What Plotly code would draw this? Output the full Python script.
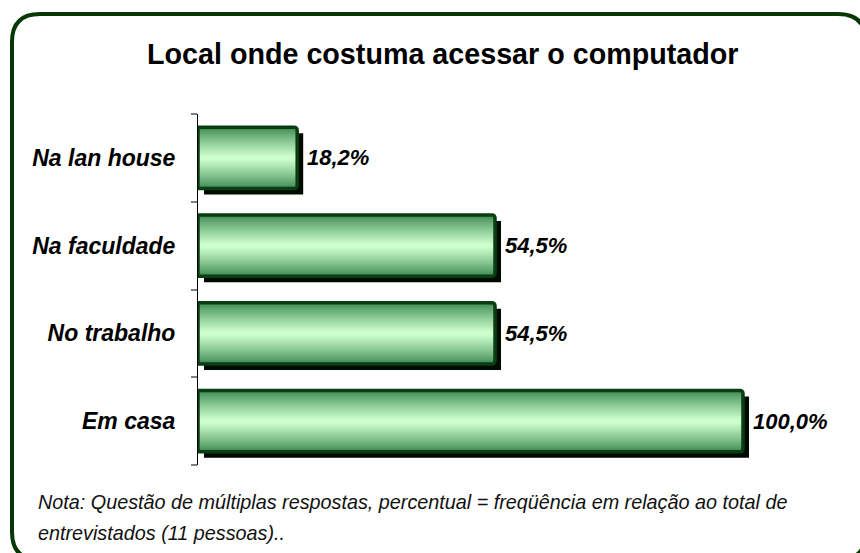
import plotly.graph_objects as go

# ---------------- data ----------------
categories = ["Em casa", "No trabalho", "Na faculdade", "Na lan house"]
values = [100.0, 54.5, 54.5, 18.2]
title_text = "Local onde costuma acessar o computador"
note_lines = [
    "Nota: Questão de múltiplas respostas, percentual = freqüência em relação ao total de",
    "entrevistados (11 pessoas)..",
]

# ---------------- layout geometry ----------------
W, H = 860, 553
ML, MR, MT, MB = 198, 22, 114, 88
PW = W - ML - MR
PH = H - MT - MB
XMAX = 100 * PW / 545.0
CAT_PX = PH / len(categories)


def px_x(px):
    return (px - ML) / PW


def px_y(py):
    return (MT + PH - py) / PH


def mix(c1, c2, t):
    return "rgb(%d,%d,%d)" % tuple(round(a + (b - a) * t) for a, b in zip(c1, c2))


FONT = "Liberation Sans, Arial, sans-serif"
BAR_W = 0.70
fig = go.Figure()

# shadow
fig.add_trace(go.Bar(
    y=categories, x=values, base=6 * XMAX / PW, orientation="h",
    width=BAR_W, offset=-BAR_W / 2 - 6 / CAT_PX,
    marker=dict(color="#000a00", line=dict(width=0)),
    hoverinfo="skip", showlegend=False,
))

# gradient layers
edge = (0x3c, 0x88, 0x52)
center = (0xcc, 0xff, 0xcc)
N = 22
for k in range(N):
    t = k / (N - 1)
    w = BAR_W * (1 - 0.93 * t)
    fig.add_trace(go.Bar(
        y=categories, x=values, orientation="h", width=w,
        marker=dict(color=mix(edge, center, t ** 0.85), line=dict(width=0)),
        hoverinfo="skip", showlegend=False,
    ))

# border
fig.add_trace(go.Bar(
    y=categories, x=values, orientation="h", width=BAR_W,
    marker=dict(color="rgba(0,0,0,0)", line=dict(color="#0a3d12", width=3.5), cornerradius=3),
    hoverinfo="skip", showlegend=False,
))

annotations = []
for c, v in zip(categories, values):
    annotations.append(dict(
        x=v, y=c, xref="x", yref="y", xanchor="left", yanchor="middle",
        xshift=8, showarrow=False,
        text=("%.1f" % v).replace(".", ",") + "%",
        font=dict(family=FONT, size=22, color="black", weight="bold", style="italic"),
    ))

annotations.append(dict(
    x=px_x(442), y=px_y(54), xref="paper", yref="paper",
    xanchor="center", yanchor="middle", showarrow=False, text=title_text,
    font=dict(family=FONT, size=28.7, color="black", weight="bold"),
))
for i, line in enumerate(note_lines):
    annotations.append(dict(
        x=px_x(36), y=px_y(502 + 31 * i), xref="paper", yref="paper",
        xanchor="left", yanchor="middle", showarrow=False, text=line,
        font=dict(family=FONT, size=19.8, color="#111111", style="italic"),
    ))

# rounded frame
x0, x1, y0, y1, r = 12, 866, 14, 560, 28
pts = [
    ("M", [(x0 + r, y0)]), ("L", [(x1 - r, y0)]), ("Q", [(x1, y0), (x1, y0 + r)]),
    ("L", [(x1, y1 - r)]), ("Q", [(x1, y1), (x1 - r, y1)]), ("L", [(x0 + r, y1)]),
    ("Q", [(x0, y1), (x0, y1 - r)]), ("L", [(x0, y0 + r)]), ("Q", [(x0, y0), (x0 + r, y0)]),
]
path = " ".join(
    cmd + " " + " ".join("%.5f,%.5f" % (px_x(a), px_y(b)) for a, b in p) for cmd, p in pts
) + " Z"

fig.update_layout(
    width=W, height=H,
    margin=dict(l=ML, r=MR, t=MT, b=MB, pad=0),
    paper_bgcolor="white", plot_bgcolor="white",
    barmode="overlay", showlegend=False,
    annotations=annotations,
    shapes=[dict(type="path", path=path, xref="paper", yref="paper",
                 line=dict(color="#063806", width=4), fillcolor="rgba(0,0,0,0)")],
    xaxis=dict(range=[0, XMAX], visible=False, fixedrange=True),
    yaxis=dict(
        type="category", categoryorder="array", categoryarray=categories,
        range=[-0.5, len(categories) - 0.5],
        showline=True, linecolor="black", linewidth=1,
        ticks="outside", tickson="boundaries", ticklen=6, tickcolor="#808080", tickwidth=1.5,
        ticklabelstandoff=17, showgrid=False, zeroline=False,
        tickfont=dict(family=FONT, size=23, color="black", weight="bold", style="italic"),
    ),
)

fig.write_html("out.html")
